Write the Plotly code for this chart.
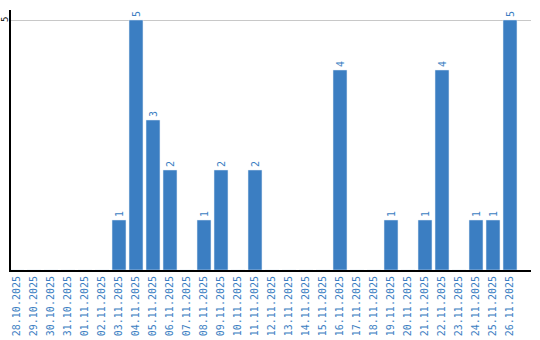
import plotly.graph_objects as go

dates = ["28.10.2025", "29.10.2025", "30.10.2025", "31.10.2025", "01.11.2025", "02.11.2025",
         "03.11.2025", "04.11.2025", "05.11.2025", "06.11.2025", "07.11.2025", "08.11.2025",
         "09.11.2025", "10.11.2025", "11.11.2025", "12.11.2025", "13.11.2025", "14.11.2025",
         "15.11.2025", "16.11.2025", "17.11.2025", "18.11.2025", "19.11.2025", "20.11.2025",
         "21.11.2025", "22.11.2025", "23.11.2025", "24.11.2025", "25.11.2025", "26.11.2025"]
counts = [0, 0, 0, 0, 0, 0,
          1, 5, 3, 2, 0, 1,
          2, 0, 2, 0, 0, 0,
          0, 4, 0, 0, 1, 0,
          1, 4, 0, 1, 1, 5]
y_ticks = [5]

blue = "#3b7ec2"
font = "DejaVu Sans Mono"

texts = [str(v) if v > 0 else "" for v in counts]

fig = go.Figure(go.Bar(
    x=dates, y=counts, marker_color=blue, text=texts,
    textposition="outside", textangle=-90,
    textfont=dict(family=font, size=10, color=blue),
    cliponaxis=False,
))

for t in y_ticks:
    fig.add_annotation(x=0, xref="paper", y=t, yref="y", text=str(t),
                       textangle=-90, showarrow=False, xanchor="center",
                       xshift=-6, font=dict(family=font, size=9, color="black"))

fig.update_layout(
    width=540, height=340,
    margin=dict(l=11, r=9, t=10, b=70),
    plot_bgcolor="white", paper_bgcolor="white",
    bargap=0.18, showlegend=False,
    xaxis=dict(type="category", range=[-0.353, 30.235], tickangle=-90,
               tickfont=dict(family=font, size=10, color=blue),
               showline=True, linecolor="black", linewidth=2, showgrid=False,
               ticks="", automargin=False),
    yaxis=dict(range=[0, 5.2], tickvals=y_ticks, showticklabels=False,
               showline=True, linecolor="black", linewidth=2,
               showgrid=True, gridcolor="#c8c8c8", gridwidth=1,
               zeroline=False, ticks="", automargin=False),
)

fig.write_html("out.html")
